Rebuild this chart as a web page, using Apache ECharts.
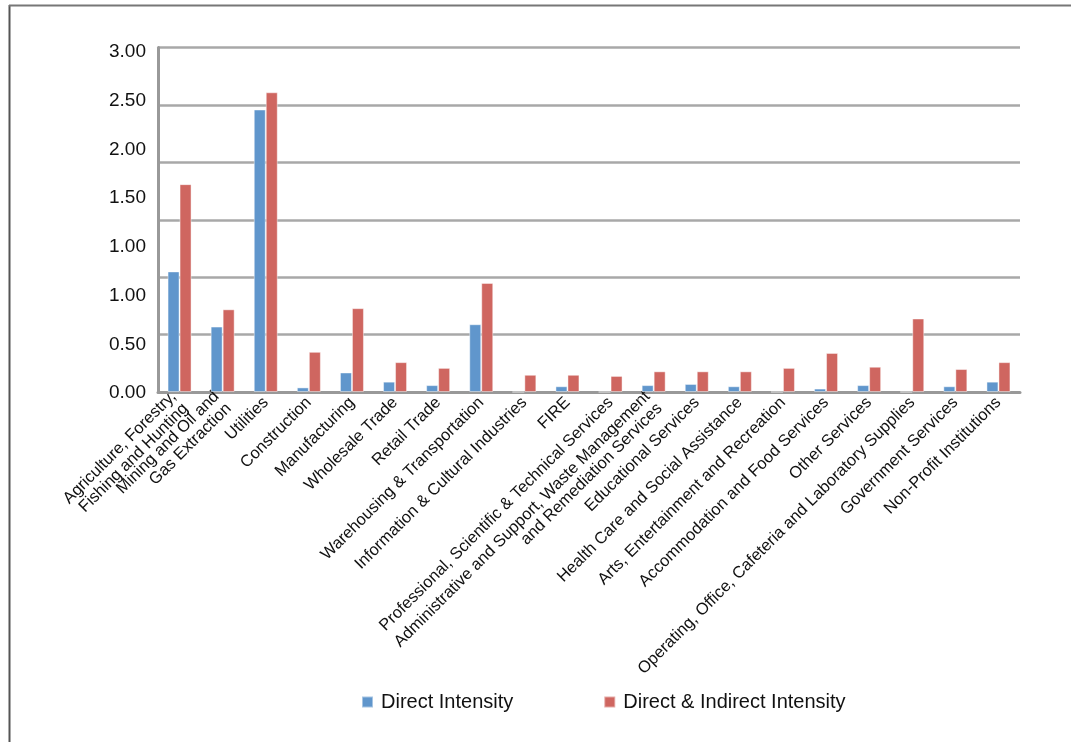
<!DOCTYPE html>
<html>
<head>
<meta charset="utf-8">
<script src="https://cdn.jsdelivr.net/npm/echarts@6/dist/echarts.min.js"></script>
<style>
html,body{margin:0;padding:0;background:#fff;}
#chart{width:1071px;height:742px;}
</style>
</head>
<body>
<div id="chart"></div>
<script>
const categories = [
  "Agriculture, Forestry,\nFishing and Hunting",
  "Mining and Oil and\nGas Extraction",
  "Utilities",
  "Construction",
  "Manufacturing",
  "Wholesale Trade",
  "Retail Trade",
  "Warehousing & Transportation",
  "Information & Cultural Industries",
  "FIRE",
  "Professional, Scientific & Technical Services",
  "Administrative and Support, Waste Management\nand Remediation Services",
  "Educational Services",
  "Health Care and Social Assistance",
  "Arts, Entertainment and Recreation",
  "Accommodation and Food Services",
  "Other Services",
  "Operating, Office, Cafeteria and Laboratory Supplies",
  "Government Services",
  "Non-Profit Institutions"
];
const directIntensity = [1.05, 0.57, 2.46, 0.04, 0.17, 0.09, 0.06, 0.59, 0.00, 0.05, 0.00, 0.06, 0.07, 0.05, 0.00, 0.03, 0.06, 0.00, 0.05, 0.09];
const directIndirectIntensity = [1.81, 0.72, 2.61, 0.35, 0.73, 0.26, 0.21, 0.95, 0.15, 0.15, 0.14, 0.18, 0.18, 0.18, 0.21, 0.34, 0.22, 0.64, 0.20, 0.26];
const yTickLabels = ["0.00", "0.50", "1.00", "1.00", "1.50", "2.00", "2.50", "3.00"];
const seriesNames = ["Direct Intensity", "Direct & Indirect Intensity"];
const colors = ["#6096cc", "#cf6660"];

const chart = echarts.init(document.getElementById('chart'), null, {renderer: 'canvas'});
const font = '"Liberation Sans", Arial, Helvetica, sans-serif';
chart.setOption({
  animation: false,
  backgroundColor: '#fff',
  color: colors,
  textStyle: {fontFamily: font, color: '#111'},
  graphic: [
    {type: 'line', shape: {x1: 9.5, y1: 5, x2: 9.5, y2: 742}, style: {stroke: '#555', lineWidth: 2}},
    {type: 'line', shape: {x1: 9, y1: 5.5, x2: 1071, y2: 5.5}, style: {stroke: '#777', lineWidth: 2}}
  ],
  legend: {
    data: seriesNames,
    left: 356,
    top: 687,
    itemWidth: 11,
    itemHeight: 11,
    itemGap: 90,
    icon: 'rect',
    textStyle: {fontSize: 20, color: '#111', fontFamily: font, padding: [0, 0, 0, 3]}
  },
  grid: [
    {left: 158, right: 51, top: 47.5, bottom: 350, containLabel: false},
    {left: 158, right: 51, top: 52, bottom: 349, containLabel: false}
  ],
  xAxis: [
    {
      type: 'category',
      gridIndex: 0,
      data: categories,
      axisTick: {show: false},
      axisLine: {lineStyle: {color: '#999', width: 3}},
      axisLabel: {interval: 0, rotate: 45, fontSize: 16.5, color: '#111', fontFamily: font, margin: 8, lineHeight: 17}
    },
    {
      type: 'category',
      gridIndex: 1,
      data: categories,
      show: false
    }
  ],
  yAxis: [
    {
      type: 'value',
      gridIndex: 0,
      min: 0,
      max: 3,
      interval: 0.5,
      axisLabel: {show: false},
      axisTick: {show: false},
      axisLine: {show: true, lineStyle: {color: '#999', width: 3}},
      splitLine: {show: true, lineStyle: {color: '#a8a8a8', width: 2.5}}
    },
    {
      type: 'category',
      gridIndex: 1,
      data: yTickLabels,
      boundaryGap: false,
      axisLine: {show: false},
      axisTick: {show: false},
      splitLine: {show: false},
      axisLabel: {fontSize: 19, color: '#111', fontFamily: font, margin: 12, interval: 0}
    }
  ],
  series: [
    {
      name: seriesNames[0],
      type: 'bar',
      data: directIntensity,
      barWidth: 12,
      barGap: '0%',
      itemStyle: {color: colors[0], borderColor: 'rgba(255,255,255,0.45)', borderWidth: 1}
    },
    {
      name: seriesNames[1],
      type: 'bar',
      data: directIndirectIntensity,
      barWidth: 12,
      barGap: '0%',
      itemStyle: {color: colors[1], borderColor: 'rgba(255,255,255,0.45)', borderWidth: 1}
    }
  ]
});
</script>
</body>
</html>
